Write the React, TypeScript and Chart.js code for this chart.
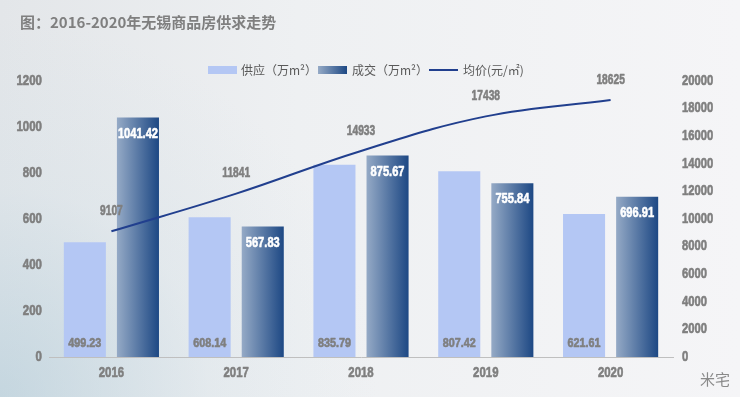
import React, { useEffect, useRef } from "react";
import { Chart, registerables } from "chart.js";

Chart.register(...registerables);

const years = ["2016", "2017", "2018", "2019", "2020"];
const supply = [499.23, 608.14, 835.79, 807.42, 621.61];
const deals = [1041.42, 567.83, 875.67, 755.84, 696.91];
const price = [9107, 11841, 14933, 17438, 18625];
const leftTicks = [0, 200, 400, 600, 800, 1000, 1200];
const rightTicks = [0, 2000, 4000, 6000, 8000, 10000, 12000, 14000, 16000, 18000, 20000];

const titleText = "图：2016-2020年无锡商品房供求走势";
const legendLabels = ["供应（万m²）", "成交（万m²）", "均价(元/㎡)"];

const NUM_FONT = '"Liberation Sans", Arial, sans-serif';
const CJK_FONT = '"Noto Sans CJK SC", "Noto Sans", sans-serif';
const GREY = "#7f7f7f";
const SUPPLY_COLOR = "#b4c7f4";
const DEAL_LIGHT = "#95aac6";
const DEAL_DARK = "#1d4884";
const LINE_COLOR = "#213f8e";

const CAT_PCT = 0.851;
const BAR_PCT = 0.792;

function dealGradient(ctx: any) {
  const chart = ctx.chart;
  const xs = chart.scales && chart.scales.x;
  if (!xs || ctx.dataIndex === undefined) return DEAL_DARK;
  const center = xs.getPixelForValue(ctx.dataIndex);
  const catW = xs.width / years.length;
  const slot = (catW * CAT_PCT) / 2;
  const barCenter = center + slot / 2;
  const w = slot * BAR_PCT;
  const x0 = barCenter - w / 2;
  const x1 = barCenter + w / 2;
  if (!isFinite(x0) || !isFinite(x1) || w <= 0) return DEAL_DARK;
  const g = chart.ctx.createLinearGradient(x0, 0, x1, 0);
  g.addColorStop(0, DEAL_LIGHT);
  g.addColorStop(1, DEAL_DARK);
  return g;
}

function drawNarrow(
  ctx: CanvasRenderingContext2D,
  text: string,
  x: number,
  y: number,
  align: CanvasTextAlign,
  size: number,
  color: string,
  sx = 0.8
) {
  ctx.save();
  ctx.translate(x, y);
  ctx.scale(sx, 1);
  ctx.font = `bold ${size}px ${NUM_FONT}`;
  ctx.fillStyle = color;
  ctx.strokeStyle = color;
  ctx.lineWidth = 0.6;
  ctx.lineJoin = "round";
  ctx.textAlign = align;
  ctx.textBaseline = "middle";
  ctx.fillText(text, 0, 0);
  ctx.strokeText(text, 0, 0);
  ctx.restore();
}

const decorPlugin = {
  id: "decor",
  afterDraw(chart: any) {
    const ctx: CanvasRenderingContext2D = chart.ctx;
    ctx.save();
    // title
    ctx.font = `bold 15px ${CJK_FONT}`;
    ctx.fillStyle = GREY;
    ctx.textAlign = "left";
    ctx.textBaseline = "middle";
    ctx.fillText(titleText, 20, 22);

    // legend
    ctx.font = `12px ${CJK_FONT}`;
    const boxX = [208, 318, 429];
    const textX = [241, 352, 463];
    const boxW = 29;
    const y = 70;
    legendLabels.forEach((t, i) => {
      const x = boxX[i];
      if (i === 0) {
        ctx.fillStyle = SUPPLY_COLOR;
        ctx.fillRect(x, y - 4, boxW, 8);
      } else if (i === 1) {
        const g = ctx.createLinearGradient(x, 0, x + boxW, 0);
        g.addColorStop(0, DEAL_LIGHT);
        g.addColorStop(1, DEAL_DARK);
        ctx.fillStyle = g;
        ctx.fillRect(x, y - 4, boxW, 8);
      } else {
        ctx.strokeStyle = LINE_COLOR;
        ctx.lineWidth = 2;
        ctx.beginPath();
        ctx.moveTo(x, y);
        ctx.lineTo(x + boxW, y);
        ctx.stroke();
      }
      ctx.fillStyle = "#595959";
      ctx.textAlign = "left";
      ctx.textBaseline = "middle";
      ctx.fillText(t, textX[i], y);
    });

    // axis tick labels
    const ys = chart.scales.y;
    const y1s = chart.scales.y1;
    const xs = chart.scales.x;
    leftTicks.forEach((v) => {
      drawNarrow(ctx, String(v), ys.right - 7, ys.getPixelForValue(v), "right", 14, GREY, 0.82);
    });
    rightTicks.forEach((v) => {
      drawNarrow(ctx, String(v), y1s.left + 9, y1s.getPixelForValue(v), "left", 14, GREY, 0.8);
    });
    years.forEach((lab, i) => {
      drawNarrow(ctx, lab, xs.getPixelForValue(i), xs.top + 16, "center", 15, GREY, 0.76);
    });

    // data labels
    const bottom = ys.bottom;
    const m0 = chart.getDatasetMeta(0);
    const m1 = chart.getDatasetMeta(1);
    const m2 = chart.getDatasetMeta(2);
    m0.data.forEach((el: any, i: number) => {
      drawNarrow(ctx, supply[i].toFixed(2), el.x, bottom - 14, "center", 13, GREY, 0.83);
    });
    m1.data.forEach((el: any, i: number) => {
      drawNarrow(ctx, deals[i].toFixed(2), el.x, el.y + 16, "center", 15, "#ffffff", 0.74);
    });
    m2.data.forEach((el: any, i: number) => {
      drawNarrow(ctx, String(price[i]), el.x, el.y - 20, "center", 14, GREY, 0.73);
    });

    // corner mark
    ctx.font = `15px ${CJK_FONT}`;
    ctx.fillStyle = "#8a8a8a";
    ctx.textAlign = "left";
    ctx.textBaseline = "middle";
    ctx.fillText("米宅", 700, 379);
    ctx.restore();
  },
};

export default function App() {
  const ref = useRef<HTMLCanvasElement | null>(null);
  useEffect(() => {
    if (!ref.current) return;
    const chart = new Chart(ref.current, {
      type: "bar",
      data: {
        labels: years,
        datasets: [
          {
            type: "bar",
            label: legendLabels[0],
            data: supply,
            backgroundColor: SUPPLY_COLOR,
            yAxisID: "y",
            order: 2,
            categoryPercentage: CAT_PCT,
            barPercentage: BAR_PCT,
          },
          {
            type: "bar",
            label: legendLabels[1],
            data: deals,
            backgroundColor: (c: any) => dealGradient(c),
            yAxisID: "y",
            order: 2,
            categoryPercentage: CAT_PCT,
            barPercentage: BAR_PCT,
          },
          {
            type: "line",
            label: legendLabels[2],
            data: price,
            borderColor: LINE_COLOR,
            borderWidth: 2,
            pointRadius: 0,
            tension: 0.4,
            fill: false,
            yAxisID: "y1",
            order: 0,
          } as any,
        ],
      },
      options: {
        responsive: false,
        animation: false,
        devicePixelRatio: 1,
        layout: { padding: { top: 81, left: 0, right: 0, bottom: 0 } },
        plugins: {
          legend: { display: false },
          title: { display: false },
          tooltip: { enabled: false },
        },
        scales: {
          x: {
            type: "category",
            offset: true,
            grid: { display: false, drawTicks: false },
            border: { display: true, color: "#bfbfbf", width: 1 },
            ticks: { display: false },
            afterFit: (s: any) => {
              s.height = 40;
            },
          },
          y: {
            position: "left",
            min: 0,
            max: 1200,
            grid: { display: false, drawTicks: false },
            border: { display: false },
            ticks: { display: false, stepSize: 200 },
            afterFit: (s: any) => {
              s.width = 49;
            },
          },
          y1: {
            position: "right",
            min: 0,
            max: 20000,
            grid: { display: false, drawTicks: false },
            border: { display: false },
            ticks: { display: false, stepSize: 2000 },
            afterFit: (s: any) => {
              s.width = 67;
            },
          },
        },
      } as any,
      plugins: [decorPlugin],
    });
    return () => chart.destroy();
  }, []);

  return (
    <div
      style={{
        position: "absolute",
        left: 0,
        top: 0,
        width: 740,
        height: 397,
        background:
          "radial-gradient(circle at 0% 100%, rgba(160,195,212,0.45) 0%, rgba(200,220,230,0.2) 25%, rgba(255,255,255,0) 45%), linear-gradient(90deg, #e3e6e9 0%, #eef0f2 40%, #f5f5f7 100%)",
      }}
    >
      <canvas ref={ref} width={740} height={397} style={{ display: "block" }} />
    </div>
  );
}
